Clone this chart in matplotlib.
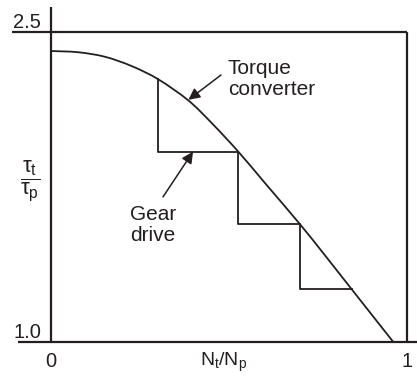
import matplotlib.pyplot as plt
from matplotlib.path import Path
from matplotlib.patches import PathPatch

# 字体：Arial 风格无衬线
plt.rcParams['font.family'] = ['Liberation Sans', 'DejaVu Sans']
plt.rcParams['mathtext.fontset'] = 'custom'
plt.rcParams['mathtext.rm'] = 'Liberation Sans'
plt.rcParams['mathtext.it'] = 'Liberation Sans'

ink = '#231f20'

# 液力变矩器特性曲线 (Nt/Np, τt/τp)
speed_ratio = [0.0, 0.0767, 0.1517, 0.2267, 0.3014, 0.3857, 0.4522,
               0.5261, 0.6011, 0.6994, 0.7697, 0.8447, 0.9615]
torque_ratio = [2.408, 2.402, 2.380, 2.335, 2.271, 2.169, 2.058,
                1.921, 1.769, 1.570, 1.419, 1.255, 1.0]

# 齿轮传动各挡换挡点
gear_x = [0.3014, 0.5261, 0.6994, 0.8447]
gear_y = [2.271, 1.921, 1.570, 1.255]

xticks = [0, 1]
xtick_labels = ['0', '1']
yticks = [1.0, 2.5]
ytick_labels = ['1.0', '2.5']

fig = plt.figure(figsize=(4.17, 3.78), dpi=100)
ax = fig.add_axes([51 / 417, 36 / 378, 356 / 417, 310 / 378])
ax.set_xlim(0, 1)
ax.set_ylim(1.0, 2.5)
for s in ax.spines.values():
    s.set_visible(False)

# 坐标框线（部分伸出框外）
kw = dict(transform=ax.transAxes, color=ink, lw=1.6, clip_on=False, solid_capstyle='butt')
ax.plot([-0.1096, 1.0], [1, 1], **kw)
ax.plot([-0.0927, 1.028], [0, 0], **kw)
ax.plot([0, 0], [0, 1.0806], **kw)
ax.plot([1, 1], [0, 1], **kw)

# 变矩器曲线：Catmull-Rom 平滑连线
pts = list(zip(speed_ratio, torque_ratio))
ext = [pts[0]] + pts + [pts[-1]]
verts = [pts[0]]
codes = [Path.MOVETO]
for i in range(1, len(ext) - 2):
    p0, p1, p2, p3 = ext[i - 1], ext[i], ext[i + 1], ext[i + 2]
    c1 = (p1[0] + (p2[0] - p0[0]) / 6, p1[1] + (p2[1] - p0[1]) / 6)
    c2 = (p2[0] - (p3[0] - p1[0]) / 6, p2[1] - (p3[1] - p1[1]) / 6)
    verts += [c1, c2, p2]
    codes += [Path.CURVE4] * 3
ax.add_patch(PathPatch(Path(verts, codes), fill=False, edgecolor=ink, lw=1.3))

# 阶梯状齿轮传动线
sx, sy = [], []
for i in range(len(gear_x) - 1):
    sx += [gear_x[i], gear_x[i], gear_x[i + 1]]
    sy += [gear_y[i], gear_y[i + 1], gear_y[i + 1]]
ax.plot(sx, sy, color=ink, lw=1.3)

# 刻度标签
ax.set_xticks(xticks)
ax.set_xticklabels(xtick_labels)
ax.set_yticks(yticks)
ax.set_yticklabels(ytick_labels)
ax.tick_params(length=0, labelsize=14.5, colors=ink)
ax.tick_params(axis='x', pad=7)
ax.tick_params(axis='y', pad=7)
for lab in ax.get_yticklabels():
    lab.set_va('bottom')

ax.text(0.486, -0.030, r'$\mathregular{N_t/N_p}$', transform=ax.transAxes,
        ha='center', va='top', fontsize=14, color=ink)
ax.text(-0.059, 0.52, r'$\dfrac{\tau_t}{\tau_p}$', transform=ax.transAxes,
        ha='center', va='center', fontsize=16, color=ink)

arrow = dict(arrowstyle='-|>', color=ink, lw=1.1, mutation_scale=17, shrinkA=0, shrinkB=0)
ax.annotate('', xy=(0.386, 2.172), xytext=(0.4775, 2.292), arrowprops=arrow)
ax.text(0.497, 2.273, 'Torque\nconverter', ha='left', va='center',
        fontsize=15, color=ink, linespacing=1.1)

ax.annotate('', xy=(0.399, 1.921), xytext=(0.3146, 1.702), arrowprops=arrow)
ax.text(0.2865, 1.566, 'Gear\ndrive', ha='center', va='center',
        fontsize=15, color=ink, linespacing=1.1, multialignment='center')

fig.savefig('out.png', dpi=100)
